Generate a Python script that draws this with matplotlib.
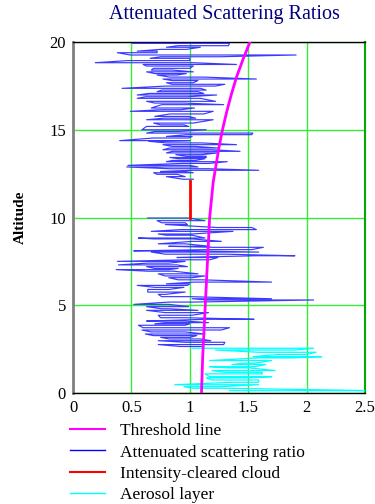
import numpy as np
import matplotlib
matplotlib.use("Agg")
import matplotlib.pyplot as plt
from matplotlib.lines import Line2D

# ---- data ----
# attenuated scattering ratio segments: altitude (km), low x, high x
blue_alt = [19.92, 19.79, 19.70, 19.58, 19.48, 19.39, 19.26, 19.16, 19.07, 18.94,
            18.82, 18.72, 18.63, 18.50, 18.40, 18.30, 18.20, 18.12, 18.00, 17.89,
            17.80, 17.68, 17.59, 17.49, 17.36, 17.26, 17.17, 17.07, 16.98, 16.88,
            16.79, 16.62, 16.52, 16.43, 16.24, 16.14, 16.05, 15.90, 15.76, 15.66,
            15.57, 15.38, 15.28, 15.19, 15.00, 14.90, 14.81, 14.72, 14.62, 14.53,
            14.38, 14.34, 14.25, 14.15, 14.05, 13.96, 13.86, 13.77, 13.68, 13.58,
            13.49, 13.42, 13.35, 13.25, 13.18, 13.08, 12.97, 12.88, 12.78, 12.69,
            12.62, 12.55, 12.46, 12.33, 12.18]
blue_lo = [0.51, 0.90, 0.80, 0.75, 0.55, 0.38, 0.49, 0.75, 0.66, 0.47,
           0.19, 0.60, 0.63, 0.69, 0.67, 0.63, 0.70, 0.72, 0.83, 0.77,
           0.85, 0.80, 0.85, 0.80, 0.42, 0.76, 0.72, 0.65, 0.55, 0.62,
           0.55, 0.63, 0.70, 0.76, 0.67, 0.75, 0.49, 0.83, 0.70, 0.78,
           0.63, 0.69, 0.75, 0.63, 0.59, 0.70, 0.63, 0.97, 0.80, 0.69,
           0.40, 0.65, 0.80, 0.77, 0.85, 0.83, 0.77, 0.85, 0.80, 0.88,
           0.97, 0.83, 0.90, 0.85, 0.80, 0.93, 0.47, 0.46, 0.83, 1.04,
           0.75, 0.69, 0.72, 0.80, 0.94]
blue_hi = [1.34, 1.33, 1.09, 0.97, 0.72, 0.72, 1.91, 1.26, 1.00, 1.00,
           1.03, 1.40, 1.03, 1.00, 0.85, 1.03, 0.97, 0.89, 1.12, 1.57,
           1.07, 1.03, 1.30, 1.22, 1.09, 1.14, 1.07, 1.12, 1.23, 0.98,
           1.09, 1.22, 0.95, 1.29, 1.04, 0.92, 1.20, 1.12, 0.99, 1.05,
           1.20, 1.03, 0.95, 0.99, 1.14, 0.90, 1.54, 1.53, 1.02, 0.99,
           1.00, 0.72, 1.10, 1.40, 1.05, 1.24, 1.19, 1.43, 1.24, 1.10,
           1.14, 1.14, 1.13, 1.05, 1.32, 1.16, 1.00, 1.07, 1.16, 1.59,
           0.95, 1.03, 0.89, 0.96, 1.03]

blue2_alt = [9.97, 9.82, 9.70, 9.60, 9.43, 9.31, 9.21, 9.06, 8.99, 8.83,
             8.78, 8.64, 8.50, 8.36, 8.30, 8.17, 8.10, 8.03, 7.91, 7.82,
             7.72, 7.59, 7.50, 7.40, 7.30, 7.20, 7.10, 7.03, 6.94, 6.79,
             6.67, 6.57, 6.45, 6.32, 6.22, 6.13, 6.02, 5.90, 5.75, 5.62,
             5.49, 5.37, 5.30, 5.18, 5.05, 4.92, 4.80, 4.71, 4.58, 4.43,
             4.29, 4.20, 4.10, 4.01, 3.94, 3.86, 3.72, 3.59, 3.48, 3.36,
             3.27, 3.17, 3.08, 2.98, 2.89, 2.76, 2.65]
blue2_lo = [0.64, 0.72, 0.76, 0.79, 1.23, 0.92, 0.67, 0.73, 0.80, 0.56,
            0.69, 1.02, 0.73, 0.82, 1.20, 1.17, 0.52, 0.67, 0.79, 1.57,
            0.89, 0.98, 0.38, 0.64, 0.39, 0.63, 0.70, 0.37, 0.64, 0.73,
            0.79, 0.82, 0.90, 1.04, 0.80, 0.55, 0.70, 0.64, 0.64, 0.73,
            0.76, 1.02, 1.15, 0.82, 0.52, 0.63, 0.76, 0.63, 0.79, 0.73,
            0.75, 1.14, 0.63, 0.79, 0.70, 0.56, 0.60, 0.59, 0.67, 0.62,
            0.69, 0.75, 0.82, 0.73, 0.96, 0.73, 0.92]
blue2_hi = [0.99, 1.13, 0.96, 0.98, 1.53, 1.57, 1.37, 1.02, 1.02, 1.13,
            1.02, 1.27, 0.96, 1.17, 1.63, 1.53, 0.96, 1.59, 1.30, 1.90,
            1.24, 1.17, 0.96, 0.82, 0.89, 0.98, 0.90, 0.82, 0.86, 1.07,
            1.13, 1.02, 1.10, 1.70, 1.00, 0.98, 0.95, 0.82, 0.96, 0.79,
            0.99, 1.70, 2.06, 1.02, 0.82, 0.99, 0.82, 1.07, 1.16, 1.02,
            0.96, 1.55, 0.96, 1.16, 1.00, 0.96, 1.34, 1.27, 0.96, 1.13,
            1.06, 1.00, 1.09, 1.18, 1.30, 1.29, 1.10]

# aerosol layer segments
aer_alt = [2.55, 2.45, 2.32, 2.19, 2.07, 2.00, 1.85, 1.70, 1.62, 1.50,
           1.43, 1.28, 1.18, 1.09, 0.93, 0.86, 0.74, 0.61, 0.47, 0.36,
           0.27, 0.13]
aer_lo = [1.02, 1.22, 1.59, 1.75, 1.54, 1.59, 1.17, 1.46, 1.36, 1.17,
          1.33, 1.19, 1.30, 1.13, 1.17, 1.14, 1.19, 1.36, 0.87, 0.95,
          1.03, 1.34]
aer_hi = [2.06, 1.90, 2.08, 2.00, 2.13, 1.87, 1.70, 1.56, 1.65, 1.56,
          1.51, 1.73, 1.62, 1.62, 1.70, 1.47, 1.59, 1.59, 1.59, 1.25,
          1.30, 2.60]

# intensity-cleared cloud
cloud_alt = [10.0, 12.1]
cloud_x = [1.0, 1.0]

# threshold line
thr_alt = [0, 2, 4, 6, 8, 10, 11, 12, 13, 14, 15, 16, 17, 18, 19, 20]
thr_x = [1.10, 1.11, 1.125, 1.14, 1.155, 1.17, 1.185, 1.20, 1.225, 1.25, 1.28,
         1.315, 1.355, 1.40, 1.455, 1.515]

xticks = [0, 0.5, 1, 1.5, 2, 2.5]
xtick_labels = ["0", "0.5", "1", "1.5", "2", "2.5"]
yticks = [0, 5, 10, 15, 20]


def zigzag(alt, lo, hi):
    xs, ys = [], []
    for i, (a, l, h) in enumerate(zip(alt, lo, hi)):
        pair = (l, h) if i % 2 == 0 else (h, l)
        xs.extend(pair)
        ys.extend([a, a])
    return xs, ys


plt.rcParams['font.family'] = ['Liberation Serif', 'DejaVu Serif']

fig = plt.figure(figsize=(3.75, 5.04), dpi=100)
ax = fig.add_axes([73 / 375, 1 - 393 / 504, (365 - 73) / 375, (393 - 42) / 504])

ax.set_xlim(0, 2.5)
ax.set_ylim(0, 20)
ax.set_xticks(xticks)
ax.set_xticklabels(xtick_labels)
ax.set_yticks(yticks)
ax.grid(True, color='#33ee33', lw=1.0)
ax.set_axisbelow(True)
ax.tick_params(length=0, labelsize=12, pad=5)

bx, by = zigzag(blue_alt, blue_lo, blue_hi)
bx2, by2 = zigzag(blue2_alt, blue2_lo, blue2_hi)
ax.plot(bx, by, color='#3a3aff', lw=0.85, zorder=3)
ax.plot(bx2, by2, color='#3a3aff', lw=0.85, zorder=3)
cx, cy = zigzag(aer_alt, aer_lo, aer_hi)
ax.plot(cx, cy, color='#00ffff', lw=0.9, zorder=3)
ax.plot(cloud_x, cloud_alt, color='#ff0000', lw=2, zorder=4)
ax.plot(thr_x, thr_alt, color='#ff00ff', lw=2, zorder=5)

for s in ['top', 'bottom']:
    ax.spines[s].set_color('black')
    ax.spines[s].set_linewidth(1.0)
ax.spines['left'].set_color('#808080')
ax.spines['left'].set_linewidth(2.0)
ax.spines['right'].set_color('#00aa00')
ax.spines['right'].set_linewidth(1.5)

ax.set_ylabel('Altitude', fontweight='bold', fontsize=11, labelpad=16)

fig.text(224 / 375, 1 - 15 / 504, 'Attenuated Scattering Ratios', color='#000080',
         fontsize=14.5, ha='center', va='center')

handles = [Line2D([], [], color='#ff00ff', lw=1.5),
           Line2D([], [], color='#0000ff', lw=1.0),
           Line2D([], [], color='#ff0000', lw=1.5),
           Line2D([], [], color='#00ffff', lw=1.0)]
labels = ['Threshold line', 'Attenuated scattering ratio', 'Intensity-cleared cloud', 'Aerosol layer']
fig.legend(handles, labels, loc='upper left', bbox_to_anchor=(70 / 375, 1 - 423 / 504),
           frameon=False, fontsize=12.5, handlelength=2.0, handletextpad=0.9,
           labelspacing=0.3, borderpad=0, borderaxespad=0)

fig.savefig('out.png', dpi=100)
